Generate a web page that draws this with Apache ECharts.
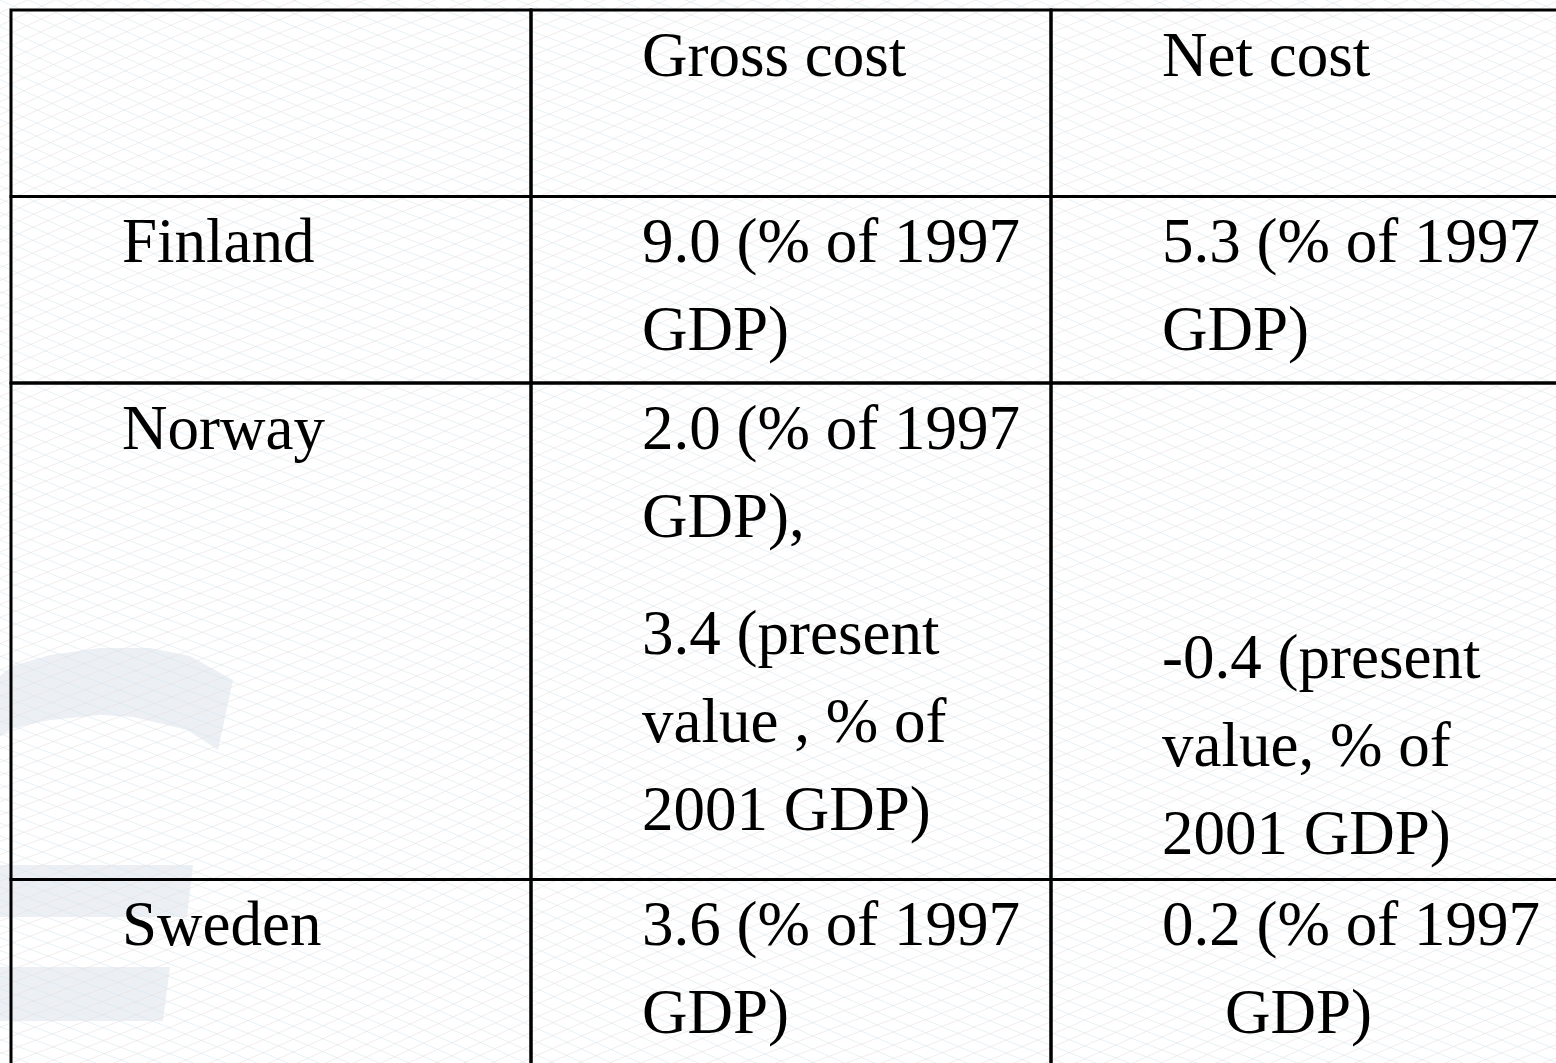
<!DOCTYPE html>
<html>
<head>
<meta charset="utf-8">
<script src="https://cdn.jsdelivr.net/npm/echarts/dist/echarts.min.js"></script>
<style>
html, body { margin: 0; padding: 0; background: #fff; }
#main { width: 1556px; height: 1063px; }
</style>
</head>
<body>
<div id="main"></div>
<script>
// table content
var columnNames = ['', 'Gross cost', 'Net cost'];
var countries = ['Finland', 'Norway', 'Sweden'];
var grossCost = [9.0, 2.0, 3.6];       // % of 1997 GDP
var grossCostPV = [null, 3.4, null];   // present value, % of 2001 GDP
var netCost = [5.3, null, 0.2];        // % of 1997 GDP
var netCostPV = [null, -0.4, null];    // present value, % of 2001 GDP

// row heights, counted in text lines (header + one row per country)
var rowLines = [2.12, 2.12, 5.64, 2.12];

var rowStart = [];
var acc = 0;
rowLines.forEach(function (h) { rowStart.push(acc); acc += h; });
var totalLines = acc;

function fmt(v) { return v.toFixed(1); }

// text blocks of one cell; "at" = offset from the top of the cell in lines
function cellBlocks(row, col) {
    if (row === 0) return [{ text: columnNames[col], at: 0 }];
    var i = row - 1;
    if (col === 0) return [{ text: countries[i], at: 0 }];
    var blocks = [];
    if (col === 1) {
        if (grossCost[i] != null) {
            blocks.push({ text: fmt(grossCost[i]) + ' (% of 1997\nGDP)' + (grossCostPV[i] != null ? ',' : ''), at: 0 });
        }
        if (grossCostPV[i] != null) {
            blocks.push({ text: fmt(grossCostPV[i]) + ' (present\nvalue , % of\n2001 GDP)', at: 2.33 });
        }
    } else {
        if (netCost[i] != null) {
            // the slide has stray spaces before the last "GDP)"
            blocks.push({ text: fmt(netCost[i]) + ' (% of 1997\n' + (i === 2 ? '    ' : '') + 'GDP)', at: 0 });
        }
        if (netCostPV[i] != null) {
            blocks.push({ text: fmt(netCostPV[i]) + ' (present\nvalue, % of\n2001 GDP)', at: 2.61 });
        }
    }
    return blocks;
}

var cells = [];
for (var r = 0; r < rowLines.length; r++) {
    for (var c = 0; c < columnNames.length; c++) {
        cells.push([c, rowStart[r], rowStart[r] + rowLines[r], r]);
    }
}

function renderCell(params, api) {
    var col = api.value(0);
    var row = api.value(3);
    var p0 = api.coord([col, api.value(1)]);
    var p1 = api.coord([col + 1, api.value(2)]);
    var unit = api.size([0, 1])[1];
    var children = [{
        type: 'rect',
        shape: { x: p0[0], y: p0[1], width: p1[0] - p0[0], height: p1[1] - p0[1] },
        style: { fill: 'none', stroke: '#000', lineWidth: 3 }
    }];
    cellBlocks(row, col).forEach(function (b) {
        children.push({
            type: 'text',
            style: {
                text: b.text,
                x: p0[0] + 111,
                y: p0[1] + 5 + b.at * unit,
                font: '63px "Liberation Serif", "Times New Roman", serif',
                fill: '#000',
                lineHeight: unit,
                verticalAlign: 'top'
            }
        });
    });
    return { type: 'group', children: children };
}

// faint guilloche background + the pale logo shape on the left
function background() {
    var els = [];
    var shapeFill = '#ecf0f5';
    els.push({
        type: 'polygon', silent: true, z: -3,
        shape: { points: [[0, 676], [12, 666], [50, 655], [100, 648], [150, 648], [190, 656], [233, 680],
                          [218, 750], [187, 730], [133, 717], [100, 715], [50, 720], [13, 728], [0, 736]] },
        style: { fill: shapeFill }
    });
    els.push({ type: 'polygon', silent: true, z: -3,
        shape: { points: [[0, 865], [193, 865], [187, 917], [0, 917]] }, style: { fill: shapeFill } });
    els.push({ type: 'polygon', silent: true, z: -3,
        shape: { points: [[0, 967], [170, 967], [163, 1021], [0, 1021]] }, style: { fill: shapeFill } });

    var s = 13, m = 0.42, a = 7;
    for (var fam = 0; fam < 2; fam++) {
        var sign = fam === 0 ? 1 : -1;
        for (var k = -60; k < 140; k++) {
            var pts = [];
            for (var x = -20; x <= 1580; x += 20) {
                var y = k * s + sign * m * x + a * Math.sin(x / 160 + k * 0.04 + fam * Math.PI);
                pts.push([x, y]);
            }
            els.push({
                type: 'polyline', silent: true, z: -2,
                shape: { points: pts, smooth: 0.3 },
                style: { stroke: fam === 0 ? '#d3e6ee' : '#e6dede', lineWidth: 1, fill: 'none', opacity: 0.55 }
            });
        }
    }
    return els;
}

var myChart = echarts.init(document.getElementById('main'));
myChart.setOption({
    animation: false,
    backgroundColor: '#fff',
    graphic: { elements: background() },
    grid: { left: 11, top: 10, width: 1560, height: totalLines * 88, outerBoundsMode: 'none', containLabel: false },
    xAxis: { type: 'value', min: 0, max: columnNames.length, show: false },
    yAxis: { type: 'value', min: 0, max: totalLines, inverse: true, show: false },
    series: [{
        type: 'custom',
        renderItem: renderCell,
        encode: { x: 0, y: [1, 2] },
        clip: false,
        data: cells
    }]
});
</script>
</body>
</html>
